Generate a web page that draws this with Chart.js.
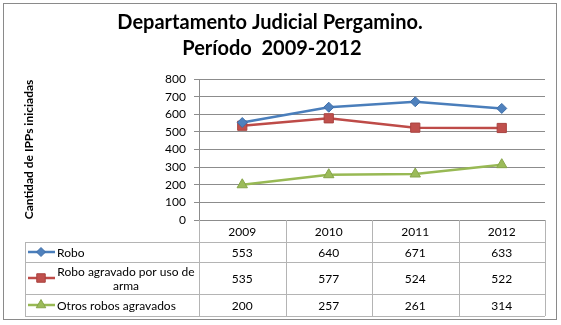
<!DOCTYPE html>
<html>
<head>
<meta charset="utf-8">
<script src="https://cdn.jsdelivr.net/npm/chart.js@4.4.1/dist/chart.umd.min.js"></script>
<style>
	html, body { margin: 0; padding: 0; background: #fff; }
	#wrap { width: 561px; height: 325px; }
</style>
</head>
<body>
<div id="wrap"><canvas id="line-chart-pergamino" width="561" height="325"></canvas></div>
<script>
"use strict";

const years = ['2009', '2010', '2011', '2012'];
const robo = [553, 640, 671, 633];
const roboArma = [535, 577, 524, 522];
const otrosRobos = [200, 257, 261, 314];
const seriesNames = ['Robo', 'Robo agravado por uso de arma', 'Otros robos agravados'];
const titleLines = ['Departamento Judicial Pergamino.', 'Período  2009-2012'];
const yAxisTitle = 'Cantidad de IPPs iniciadas';

const FONT = 'Lato, Calibri, "Liberation Sans", sans-serif';
const gridColor = '#8c8c8c';
const tableColor = '#b4b4b4';

// title, outer frame and data table under the plot
const tablePlugin = {
	id: 'dataTable',
	beforeDraw(chart) {
		const ctx = chart.ctx;
		ctx.save();
		ctx.strokeStyle = '#8a8a8a';
		ctx.lineWidth = 1;
		ctx.strokeRect(3.5, 3.5, 553, 316);
		ctx.restore();
	},
	afterDraw(chart) {
		const ctx = chart.ctx;
		const area = chart.chartArea;
		const x = chart.scales.x;

		ctx.save();
		ctx.fillStyle = '#000';
		ctx.textAlign = 'center';
		ctx.textBaseline = 'middle';
		ctx.font = 'bold 20px ' + FONT;
		ctx.fillText(titleLines[0], 270, 23);
		ctx.fillText(titleLines[1], 272, 49);

		const left = 25;
		const rows = [area.bottom, area.bottom + 22, area.bottom + 42, area.bottom + 74, area.bottom + 96];
		const colW = (area.right - area.left) / years.length;

		ctx.strokeStyle = tableColor;
		ctx.lineWidth = 1;
		ctx.beginPath();
		for (let i = 1; i < rows.length; i++) {
			const y = Math.round(rows[i]) + 0.5;
			ctx.moveTo(left, y);
			ctx.lineTo(area.right, y);
		}
		ctx.moveTo(left + 0.5, rows[1]);
		ctx.lineTo(left + 0.5, rows[4]);
		for (let i = 0; i <= years.length; i++) {
			const cx = Math.round(area.left + i * colW) + 0.5;
			ctx.moveTo(cx, rows[0]);
			ctx.lineTo(cx, rows[4]);
		}
		ctx.stroke();

		ctx.font = '12px ' + FONT;
		ctx.fillStyle = '#000';
		years.forEach((yr, i) => {
			ctx.fillText(yr, x.getPixelForValue(i), (rows[0] + rows[1]) / 2 + 1);
		});

		chart.data.datasets.forEach((ds, r) => {
			const top = rows[r + 1], bottom = rows[r + 2];
			const cy = (top + bottom) / 2 + 1;
			ds.data.forEach((v, i) => {
				ctx.fillText(String(v), x.getPixelForValue(i), cy);
			});

			// legend key
			ctx.strokeStyle = ds.borderColor;
			ctx.lineWidth = 2.5;
			ctx.beginPath();
			ctx.moveTo(28, cy - 1);
			ctx.lineTo(55, cy - 1);
			ctx.stroke();
			ctx.fillStyle = ds.pointBackgroundColor;
			ctx.strokeStyle = ds.pointBorderColor;
			ctx.lineWidth = 1;
			Chart.helpers.drawPoint(ctx, {pointStyle: ds.pointStyle, radius: ds.pointRadius - 0.5, rotation: 0, borderWidth: 1}, 41, cy - 1);

			// label, wrapped inside the cell
			ctx.fillStyle = '#000';
			const textLeft = 57, textRight = area.left - 4;
			const words = ds.label.split(' ');
			const lines = [];
			let line = '';
			words.forEach(w => {
				const test = line ? line + ' ' + w : w;
				if (ctx.measureText(test).width > textRight - textLeft && line) {
					lines.push(line);
					line = w;
				} else {
					line = test;
				}
			});
			lines.push(line);
			const lh = 14;
			lines.forEach((l, k) => {
				const ly = cy - (lines.length - 1) * lh / 2 + k * lh;
				if (lines.length > 1) {
					ctx.textAlign = 'center';
					ctx.fillText(l, (textLeft + textRight) / 2, ly);
				} else {
					ctx.textAlign = 'left';
					ctx.fillText(l, textLeft, ly);
				}
			});
			ctx.textAlign = 'center';
		});
		ctx.restore();
	}
};

function displayLineChartPergamino() {
	const ctx = document.querySelector('#line-chart-pergamino').getContext('2d');
	new Chart(ctx, {
		type: 'line',
		data: {
			labels: years,
			datasets: [{
				label: seriesNames[0],
				data: robo,
				borderColor: '#4a7ebb',
				borderWidth: 2.5,
				pointStyle: 'rectRot',
				pointRadius: 5,
				pointBackgroundColor: '#4f81bd',
				pointBorderColor: '#3f6ea8',
				pointBorderWidth: 1
			}, {
				label: seriesNames[1],
				data: roboArma,
				borderColor: '#be4b48',
				borderWidth: 2.5,
				pointStyle: 'rect',
				pointRadius: 6.5,
				pointBackgroundColor: '#c0504d',
				pointBorderColor: '#a8423f',
				pointBorderWidth: 1
			}, {
				label: seriesNames[2],
				data: otrosRobos,
				borderColor: '#98b954',
				borderWidth: 2.5,
				pointStyle: 'triangle',
				pointRadius: 6,
				pointBackgroundColor: '#9bbb59',
				pointBorderColor: '#86a44a',
				pointBorderWidth: 1
			}]
		},
		options: {
			responsive: false,
			animation: false,
			layout: {
				padding: { left: 18, right: 16, top: 79, bottom: 105 }
			},
			plugins: {
				legend: { display: false },
				title: { display: false },
				tooltip: { enabled: false }
			},
			scales: {
				x: {
					display: false,
					offset: true
				},
				y: {
					min: 0,
					max: 800,
					afterFit: (scale) => { scale.width = 181; },
					ticks: {
						stepSize: 100,
						padding: 8,
						color: '#000',
						font: { family: FONT, size: 12 }
					},
					grid: {
						color: gridColor,
						tickLength: 5,
						drawTicks: true
					},
					border: { display: true, color: gridColor },
					title: {
						display: true,
						text: yAxisTitle,
						color: '#000',
						padding: { top: 4, bottom: 4 },
						font: { family: FONT, size: 12, weight: 'bold' }
					}
				}
			}
		},
		plugins: [tablePlugin]
	});
}

displayLineChartPergamino();
</script>
</body>
</html>
